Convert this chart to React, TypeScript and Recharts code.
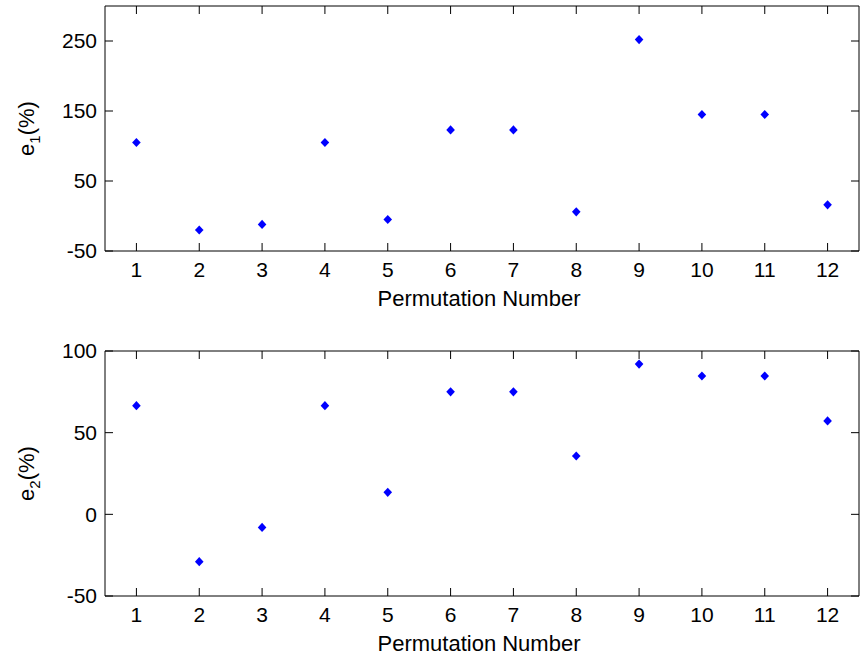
import React from "react";
import { ScatterChart, Scatter, XAxis, YAxis } from "recharts";

const permutation = [1, 2, 3, 4, 5, 6, 7, 8, 9, 10, 11, 12];
const e1 = [105, -20, -12, 105, -5, 123, 123, 6, 252, 145, 145, 16];
const e2 = [66.5, -29, -8, 66.5, 13.5, 75, 75, 35.7, 92, 84.7, 84.7, 57.2];

const xTicks = permutation;
const e1Ticks = [-50, 50, 150, 250];
const e2Ticks = [-50, 0, 50, 100];

const FONT = "'Liberation Sans', Arial, sans-serif";
const W = 864;
const H = 330;
const LEFT = 105;
const RIGHT = 5;
const TICK_LEN = 8;
const line = { stroke: "#000" };

const Diamond = (props: any) => {
  const { cx, cy } = props;
  const w = 4.3;
  const h = 4.6;
  return <path d={`M${cx},${cy - h}L${cx + w},${cy}L${cx},${cy + h}L${cx - w},${cy}Z`} fill="#0000FF" />;
};

// x tick: label below the frame, tick marks pointing inward on bottom and top edges
const makeXTick = (plotTop: number, plotBottom: number) => (props: any) => {
  const { x, payload } = props;
  return (
    <g>
      <line x1={x} y1={plotBottom} x2={x} y2={plotBottom - TICK_LEN} stroke="#000" />
      <line x1={x} y1={plotTop} x2={x} y2={plotTop + TICK_LEN} stroke="#000" />
      <text x={x} y={plotBottom + 11} dy="0.71em" textAnchor="middle" fontSize={21} fontFamily={FONT} fill="#000">
        {payload.value}
      </text>
    </g>
  );
};

const makeYTick = () => (props: any) => {
  const { y, payload } = props;
  const right = W - RIGHT;
  return (
    <g>
      <line x1={LEFT} y1={y} x2={LEFT + TICK_LEN} y2={y} stroke="#000" />
      <line x1={right} y1={y} x2={right - TICK_LEN} y2={y} stroke="#000" />
      <text x={LEFT - 8} y={y} dy="0.355em" textAnchor="end" fontSize={21} fontFamily={FONT} fill="#000">
        {payload.value}
      </text>
    </g>
  );
};

const XLabel = (props: any) => {
  const { viewBox } = props;
  return (
    <text
      x={viewBox.x + viewBox.width / 2 - 3}
      y={viewBox.y + 55}
      textAnchor="middle"
      fontSize={22}
      fontFamily={FONT}
      fill="#000"
    >
      Permutation Number
    </text>
  );
};

const makeYLabel = (sub: string) => (props: any) => {
  const { viewBox } = props;
  const cx = 34;
  const cy = viewBox.y + viewBox.height / 2;
  return (
    <text
      x={cx}
      y={cy}
      transform={`rotate(-90 ${cx} ${cy})`}
      textAnchor="middle"
      fontSize={22}
      fontFamily={FONT}
      fill="#000"
    >
      e
      <tspan fontSize={15} dy={6}>
        {sub}
      </tspan>
      <tspan dy={-6}>(%)</tspan>
    </text>
  );
};

function Panel({
  values,
  yTicks,
  yDomain,
  sub,
  top,
  xHeight,
}: {
  values: number[];
  yTicks: number[];
  yDomain: [number, number];
  sub: string;
  top: number;
  xHeight: number;
}) {
  const data = permutation.map((p, i) => ({ p, v: values[i] }));
  const XTick = makeXTick(top, H - xHeight);
  const YTick = makeYTick();
  return (
    <ScatterChart width={W} height={H} margin={{ top, right: RIGHT, bottom: 0, left: 0 }}>
      <XAxis
        dataKey="p"
        type="number"
        domain={[0.5, 12.5]}
        ticks={xTicks}
        height={xHeight}
        tickLine={false}
        tick={<XTick />}
        axisLine={line}
        label={<XLabel />}
      />
      <XAxis
        xAxisId="top"
        orientation="top"
        type="number"
        domain={[0.5, 12.5]}
        mirror
        tick={false}
        tickLine={false}
        axisLine={line}
      />
      <YAxis
        dataKey="v"
        type="number"
        domain={yDomain}
        ticks={yTicks}
        width={LEFT}
        tickLine={false}
        tick={<YTick />}
        axisLine={line}
        label={{ content: makeYLabel(sub) }}
      />
      <YAxis
        yAxisId="right"
        orientation="right"
        type="number"
        domain={yDomain}
        mirror
        tick={false}
        tickLine={false}
        axisLine={line}
      />
      <Scatter data={data} shape={<Diamond />} isAnimationActive={false} />
    </ScatterChart>
  );
}

export default function App() {
  return (
    <div style={{ position: "absolute", left: 0, top: 0, width: W, height: 660, background: "#fff" }}>
      <Panel values={e1} yTicks={e1Ticks} yDomain={[-50, 300]} sub="1" top={6} xHeight={79} />
      <Panel values={e2} yTicks={e2Ticks} yDomain={[-50, 100]} sub="2" top={21} xHeight={64} />
    </div>
  );
}
